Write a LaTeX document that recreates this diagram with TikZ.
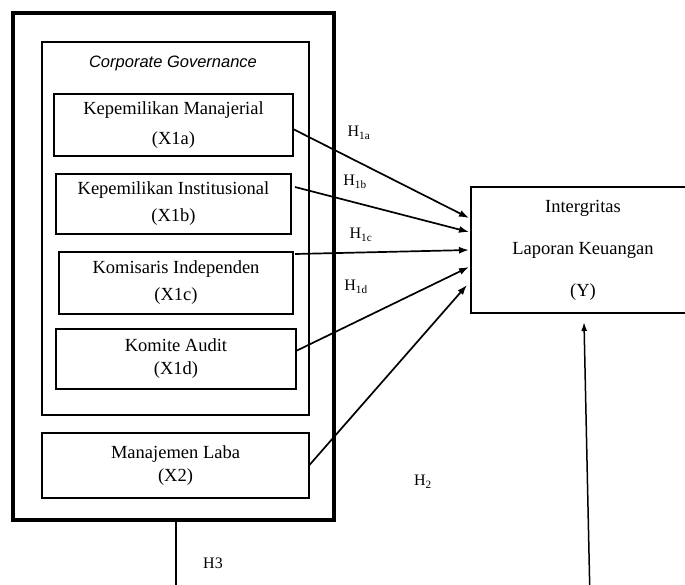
\documentclass[tikz,border=0pt]{standalone}
\usepackage{fontspec}
\setmainfont{Liberation Serif}
\setsansfont{Liberation Sans}
\usetikzlibrary{arrows.meta,calc}
\tikzset{
  frame/.style={draw, inner sep=0pt, outer sep=0pt, line width=1.7pt},
  varbox/.style={draw, inner sep=0pt, outer sep=0pt, line width=1.7pt, align=center,
    font=\fontsize{18.5}{23}\selectfont},
  arr/.style={line width=1.7pt, -{Latex[length=10pt,width=7pt]}},
  hlab/.style={font=\fontsize{16}{18}\selectfont, inner sep=0pt},
}
\begin{document}
\begin{tikzpicture}[x=1pt,y=-1pt]
\useasboundingbox (0,0) rectangle (685,584);
\clip (0,0) rectangle (685,584);
\fill[white] (0,0) rectangle (685,584);
% outer thick frame
\node[frame, line width=4pt, minimum width=321pt, minimum height=507pt] (outer) at (173.5,266.5) {};
% corporate governance frame
\node[frame, minimum width=267pt, minimum height=373pt] (cg) at (175.5,228.5) {};
\node[font=\sffamily\itshape\fontsize{16.5}{18}\selectfont, inner sep=0pt] (cgt) at (173,63) {Corporate Governance};
% variable boxes
\node[varbox, minimum width=239pt, minimum height=62pt] (x1a) at (173.5,125) {Kepemilikan Manajerial\\[7pt](X1a)};
\node[varbox, minimum width=235pt, minimum height=60pt] (x1b) at (173.5,204) {Kepemilikan Institusional\\[4pt](X1b)};
\node[varbox, minimum width=234pt, minimum height=62pt] (x1c) at (176,283) {Komisaris Independen\\[4pt](X1c)};
\node[varbox, minimum width=240pt, minimum height=60pt] (x1d) at (176,359) {Komite Audit\\(X1d)};
\node[varbox, minimum width=267pt, minimum height=65pt] (ml) at (175.5,465.5) {Manajemen Laba\\(X2)};
\node[varbox, minimum width=224pt, minimum height=126pt] (y) at (583,250) {Intergritas\\[19pt]Laporan Keuangan\\[19pt](Y)};
% arrows
\draw[arr] ($(x1a.east)+(0,4)$) -- ($(y.west)+(-2,-32)$);
\draw[arr] ($(x1b.east)+(4,-17)$) -- ($(y.west)+(-2,-18)$);
\draw[arr] ($(x1c.east)+(2,-29)$) -- ($(y.west)+(-2,0)$);
\draw[arr] ($(x1d.east)+(0,-8)$) -- ($(y.west)+(-2,17)$);
\draw[arr] (ml.east) -- ($(y.west)+(-4,35)$);
% H labels
\node[hlab] (ha) at (359,133) {H\textsubscript{1a}};
\node[hlab] (hb) at (355,182) {H\textsubscript{1b}};
\node[hlab] (hc) at (361,235) {H\textsubscript{1c}};
\node[hlab] (hd) at (356,287) {H\textsubscript{1d}};
\node[hlab] (h2) at (423,482) {H\textsubscript{2}};
\node[hlab] (h3) at (213,563) {H3};
% bottom lines
\coordinate (h3end) at (176,600);
\draw[line width=1.7pt] ($(outer.south)+(2.5,0)$) -- (h3end);
\coordinate (ystart) at (590,600);
\draw[line width=1.5pt, -{Latex[length=9pt,width=6pt]}] (ystart) -- ($(y.south)+(1,9)$);
\end{tikzpicture}
\end{document}
